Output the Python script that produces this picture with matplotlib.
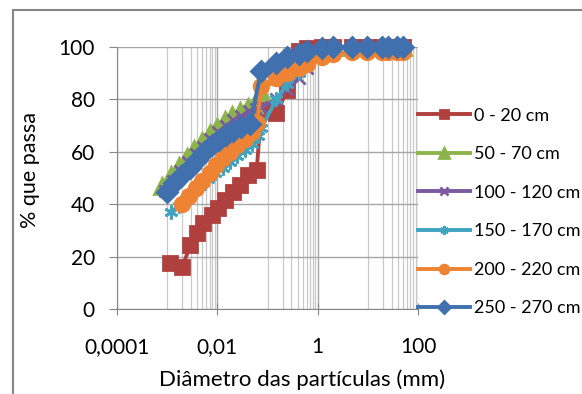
import numpy as np
import matplotlib.pyplot as plt
from matplotlib.ticker import FixedLocator, FixedFormatter, NullFormatter
from matplotlib.patches import Rectangle

plt.rcParams['font.family'] = ['Lato', 'DejaVu Sans']

# sieve openings (mm), shared by all samples
sieve_mm = [0.075, 0.15, 0.25, 0.42, 0.6, 1.2, 2.0, 4.8, 9.5, 19, 25, 38, 50]

# sedimentation diameters (mm) and % passing, then % passing on the sieves
d_0_20 = [0.00114, 0.002, 0.0029, 0.0039, 0.0052, 0.0078, 0.0102, 0.014, 0.0204, 0.028, 0.041, 0.061]
p_0_20 = [17.6, 16.0, 24.4, 29.0, 32.8, 35.9, 38.5, 41.6, 44.7, 47.3, 51.1, 53.0]
s_0_20 = [76, 75, 83.5, 98.5, 99.5, 100, 100, 100, 100, 100, 100, 100, 100]

d_50_70 = [0.0008, 0.0012, 0.0017, 0.0025, 0.0035, 0.005, 0.007, 0.01, 0.014, 0.02, 0.028, 0.04, 0.055]
p_50_70 = [47, 51, 54.5, 58, 61, 64, 67, 69.5, 72, 74, 75.5, 77, 78]
s_50_70 = [83, 89, 93, 96, 98, 99.5, 100, 100, 100, 100, 100, 100, 100]

d_100_120 = [0.0009, 0.0013, 0.0018, 0.0026, 0.0037, 0.0052, 0.0073, 0.0105, 0.015, 0.021, 0.03, 0.043, 0.058]
p_100_120 = [45, 49, 52.5, 56, 59, 62, 65, 67.5, 70, 72, 73.5, 75.5, 76.5]
s_100_120 = [77, 80, 84, 88, 92, 98, 100, 100, 100, 100, 100, 100, 100]

d_150_170 = [0.0012, 0.0017, 0.0024, 0.0033, 0.0046, 0.0065, 0.009, 0.013, 0.018, 0.025, 0.035, 0.05, 0.065]
p_150_170 = [37, 39.5, 42, 44.5, 47, 49.5, 52, 54, 56, 58.5, 60.5, 63, 66]
s_150_170 = [69, 80, 86, 90, 93, 97, 99.5, 100, 100, 100, 100, 100, 100]

d_200_220 = [0.002, 0.0027, 0.0037, 0.005, 0.007, 0.0095, 0.013, 0.018, 0.025, 0.035, 0.048, 0.062]
p_200_220 = [40, 43, 46, 49, 52, 55, 57.5, 60, 62.5, 65, 67.5, 71]
s_200_220 = [85, 88, 90, 92, 93.5, 96, 97.5, 98, 98, 98, 98, 98, 98]

d_250_270 = [0.001, 0.0014, 0.002, 0.0028, 0.004, 0.0055, 0.0078, 0.011, 0.015, 0.021, 0.03, 0.045]
p_250_270 = [44.5, 48, 51, 54, 57, 60, 62.5, 64.5, 66.5, 68, 69.5, 70.5]
s_250_270 = [91, 94, 96, 97.5, 98.5, 99.5, 100, 100, 100, 100, 100, 100, 100]

labels = ["0 - 20 cm", "50 - 70 cm", "100 - 120 cm", "150 - 170 cm", "200 - 220 cm", "250 - 270 cm"]
series = [
    (d_0_20, p_0_20, s_0_20),
    (d_50_70, p_50_70, s_50_70),
    (d_100_120, p_100_120, s_100_120),
    (d_150_170, p_150_170, s_150_170),
    (d_200_220, p_200_220, s_200_220),
    (d_250_270, p_250_270, s_250_270),
]
colors = ['#B0403D', '#8DB44B', '#7A5BA0', '#3FA4C0', '#EE8433', '#4170AE']
markers = ['s', '^', 'x', (6, 2, 0), 'o', 'D']
msizes = [10.5, 11, 9, 10, 10.5, 10]

fig = plt.figure(figsize=(5.82, 3.94), dpi=100)
ax = fig.add_axes([117 / 582, 1 - 309 / 394, 301 / 582, 262 / 394])

for (d, p, s), lab, c, m, ms in zip(series, labels, colors, markers, msizes):
    x = list(d) + sieve_mm
    y = list(p) + s
    ax.plot(x, y, color=c, lw=2.8, marker=m, ms=ms, mew=2, mfc=c, mec=c,
            label=lab, clip_on=False)

ax.set_xscale('log')
ax.set_xlim(1e-4, 100)
ax.set_ylim(0, 100)

ax.xaxis.set_major_locator(FixedLocator([1e-4, 1e-2, 1, 100]))
ax.xaxis.set_major_formatter(FixedFormatter(["0,0001", "0,01", "1", "100"]))
minor = [k * 1e-3 for k in range(1, 10)] + [k * 0.1 for k in range(1, 10)] + [k * 10 for k in range(1, 10)]
ax.xaxis.set_minor_locator(FixedLocator(minor))
ax.xaxis.set_minor_formatter(NullFormatter())
ax.set_yticks(np.arange(0, 101, 20))

ax.grid(True, which='major', color='#A6A6A6', lw=1)
ax.grid(True, which='minor', axis='x', color='#C8C8C8', lw=0.9)
ax.set_axisbelow(True)
for side in ['top', 'right']:
    ax.spines[side].set_visible(False)
for side in ['left', 'bottom']:
    ax.spines[side].set_color('#868686')
ax.tick_params(axis='y', which='major', length=6, color='#868686', labelsize=15, pad=10)
ax.tick_params(axis='x', which='major', direction='inout', length=8, color='#868686',
               labelsize=15, pad=16)
ax.tick_params(axis='x', which='minor', length=0)

fig.text(30 / 582, 1 - 170 / 394, "% que passa", rotation=90, fontsize=15.5,
         ha='center', va='center')
fig.text(302 / 582, 1 - 380 / 394, "Diâmetro das partículas (mm)", fontsize=16,
         ha='center', va='center')

leg = ax.legend(loc='center left', bbox_to_anchor=(1.0, 0.37), frameon=False,
                fontsize=13, handlelength=2.9, handletextpad=0.2, labelspacing=1.25,
                borderaxespad=0, borderpad=0, markerscale=0.6)

# chart area border
fig.patches.append(Rectangle((13 / 582, -0.2), 1.2, 1.2 - 10 / 394, transform=fig.transFigure,
                             fill=False, edgecolor='#868686', lw=1.5))

fig.savefig("out.png", dpi=100)
